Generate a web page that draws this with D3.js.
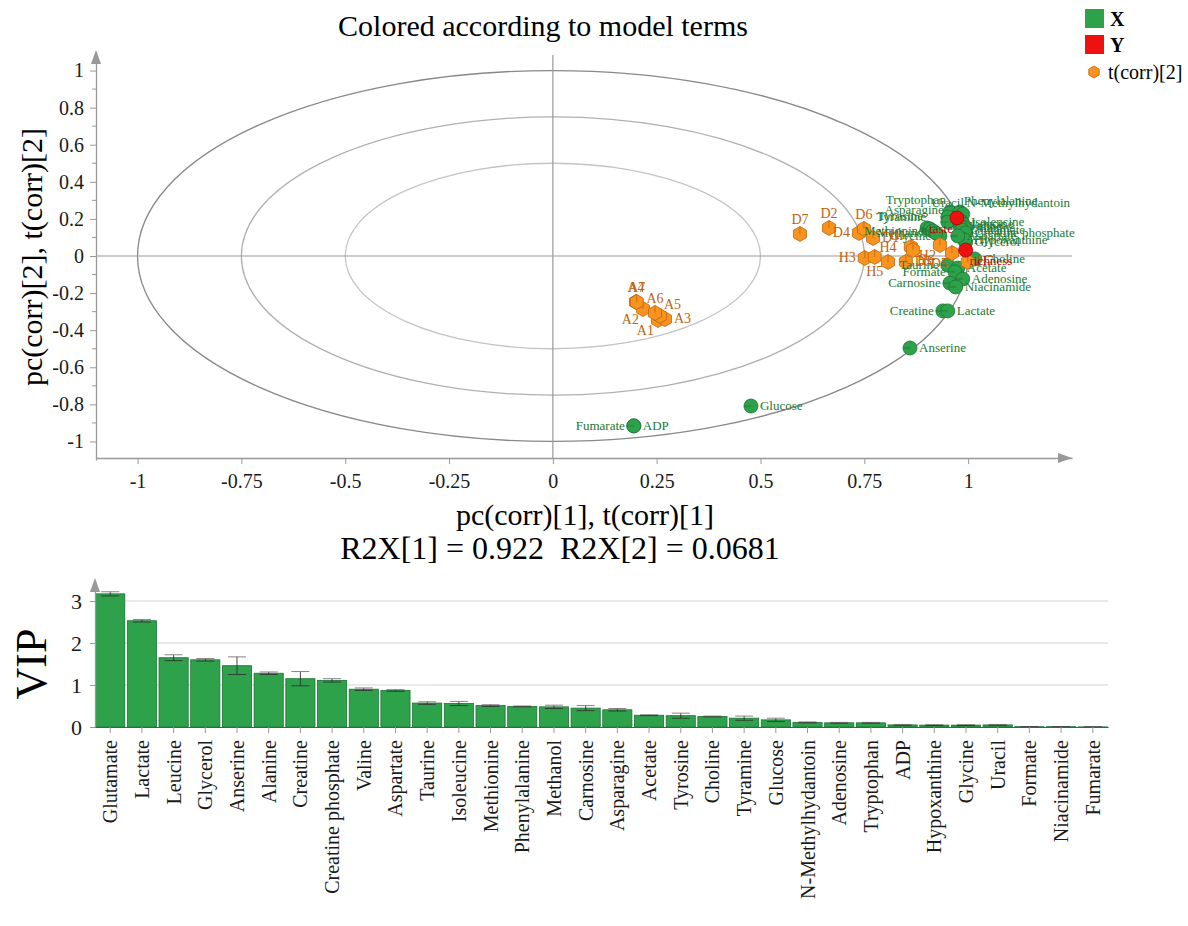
<!DOCTYPE html>
<html>
<head>
<meta charset="utf-8">
<script src="https://cdn.jsdelivr.net/npm/d3@7"></script>
<style>
  body { margin: 0; background: #fff; }
  svg { display: block; font-family: "Liberation Serif", "Times New Roman", serif; }
</style>
</head>
<body>
<svg id="chart" width="1188" height="926"></svg>
<script>
// ---- loadings (X variables) ----
const xNames = ['Tryptophan', 'Uracil', 'Asparagine', 'Tyrosine', 'Tyramine', 'Methionine', 'Glycine', 'Methanol',
  'Phenylalanine', 'N-Methylhydantoin', 'Isoleucine', 'Leucine', 'Alanine', 'Valine', 'Glutamate', 'Creatine phosphate',
  'Glycerol', 'Hypoxanthine', 'Aspartate', 'Taurine', 'Acetate', 'Choline', 'Formate', 'Carnosine',
  'Adenosine', 'Niacinamide', 'Creatine', 'Lactate', 'Anserine', 'Glucose', 'Fumarate', 'ADP']
const xPc1 = [0.956, 0.951, 0.951, 0.901, 0.908, 0.915, 0.932, 0.922,
  0.980, 0.987, 0.985, 0.987, 0.992, 0.980, 0.985, 0.994,
  0.994, 0.992, 0.975, 0.951, 0.975, 1.016, 0.968, 0.956,
  0.987, 0.970, 0.939, 0.951, 0.860, 0.477, 0.195, 0.195]
const xPc2 = [0.237, 0.210, 0.183, 0.151, 0.146, 0.135, 0.108, 0.124,
  0.237, 0.226, 0.183, 0.173, 0.151, 0.162, 0.140, 0.124,
  0.075, 0.086, 0.108, -0.049, -0.065, -0.016, -0.086, -0.146,
  -0.124, -0.167, -0.296, -0.296, -0.496, -0.809, -0.916, -0.916]

// ---- Y variables ----
const yNames = ['taste', 'richness']
const yPc1 = [0.973, 0.994]
const yPc2 = [0.205, 0.032]

// ---- observations t(corr) ----
const obsNames = ['A1', 'A2', 'A3', 'A4', 'A5', 'A6', 'A7',
  'D1', 'D2', 'D3', 'D4', 'D5', 'D6', 'D7',
  'H1', 'H2', 'H3', 'H4', 'H5', 'H6', 'H7']
const obsT1 = [0.253, 0.217, 0.270, 0.200, 0.258, 0.246, 0.202,
  0.771, 0.665, 0.850, 0.737, 0.961, 0.749, 0.595,
  0.862, 0.932, 0.751, 0.807, 0.775, 0.867, 0.999]
const obsT2 = [-0.345, -0.286, -0.340, -0.248, -0.323, -0.307, -0.248,
  0.097, 0.151, -0.032, 0.124, 0.016, 0.146, 0.119,
  0.049, 0.059, -0.011, -0.032, -0.005, 0.032, -0.032]

// ---- VIP ----
const vipNames = ['Glutamate', 'Lactate', 'Leucine', 'Glycerol', 'Anserine', 'Alanine', 'Creatine', 'Creatine phosphate',
  'Valine', 'Aspartate', 'Taurine', 'Isoleucine', 'Methionine', 'Phenylalanine', 'Methanol', 'Carnosine',
  'Asparagine', 'Acetate', 'Tyrosine', 'Choline', 'Tyramine', 'Glucose', 'N-Methylhydantoin', 'Adenosine',
  'Tryptophan', 'ADP', 'Hypoxanthine', 'Glycine', 'Uracil', 'Formate', 'Niacinamide', 'Fumarate']
const vipValues = [3.17, 2.53, 1.65, 1.60, 1.46, 1.28, 1.15, 1.11,
  0.90, 0.87, 0.57, 0.56, 0.51, 0.49, 0.48, 0.45,
  0.41, 0.28, 0.27, 0.25, 0.21, 0.17, 0.11, 0.10,
  0.10, 0.05, 0.045, 0.045, 0.05, 0.008, 0.008, 0.003]
const vipErr = [0.05, 0.03, 0.07, 0.03, 0.21, 0.03, 0.17, 0.04,
  0.03, 0.02, 0.03, 0.05, 0.02, 0.01, 0.04, 0.06,
  0.03, 0.01, 0.06, 0.01, 0.05, 0.04, 0.01, 0.01,
  0.01, 0.01, 0.01, 0.01, 0.01, 0.003, 0.003, 0.002]

const xTicks = [-1, -0.75, -0.5, -0.25, 0, 0.25, 0.5, 0.75, 1]
const yTicks = [-1, -0.8, -0.6, -0.4, -0.2, 0, 0.2, 0.4, 0.6, 0.8, 1]
const yMinor = [-0.9, -0.7, -0.5, -0.3, -0.1, 0.1, 0.3, 0.5, 0.7, 0.9]
const vipTicks = [0, 1, 2, 3]
const circleRadii = [1, 0.75, 0.5]

// where each point label sits relative to its mark
const labelSide = {
  'Tryptophan': 'tl', 'Uracil': 't', 'Asparagine': 'tl', 'Tyrosine': 'tl', 'Tyramine': 'tl', 'Methionine': 'l',
  'Glycine': 'l', 'Methanol': 'l', 'Phenylalanine': 'tr', 'N-Methylhydantoin': 'tr', 'Isoleucine': 'r', 'Leucine': 'r',
  'Alanine': 'r', 'Valine': 'r', 'Glutamate': 'r', 'Creatine phosphate': 'r', 'Glycerol': 'r', 'Hypoxanthine': 'r',
  'Aspartate': 'r', 'Taurine': 'l', 'Acetate': 'r', 'Choline': 'r', 'Formate': 'l', 'Carnosine': 'l',
  'Adenosine': 'r', 'Niacinamide': 'r', 'Creatine': 'l', 'Lactate': 'r', 'Anserine': 'r', 'Glucose': 'r',
  'Fumarate': 'l', 'ADP': 'r',
  'taste': 'bl', 'richness': 'br',
  'A1': 'bl', 'A2': 'bl', 'A3': 'r', 'A4': 't', 'A5': 'tr', 'A6': 't', 'A7': 't',
  'D1': 'r', 'D2': 't', 'D3': 'r', 'D4': 'l', 'D5': 'bl', 'D6': 't', 'D7': 't',
  'H1': 'tl', 'H2': 'bl', 'H3': 'l', 'H4': 't', 'H5': 'b', 'H6': 'br', 'H7': 'r'
}
const sideOff = {
  r: [9, 4, 'start'], l: [-9, 4, 'end'], t: [0, -10, 'middle'], b: [0, 19, 'middle'],
  tl: [-4, -8, 'end'], tr: [4, -7, 'start'], bl: [-4, 15, 'end'], br: [4, 15, 'start']
}

const green = '#2ea24b', greenDark = '#1c7432', greenText = '#1b7a33'
const orange = '#f7931e', orangeDark = '#c0660a', orangeText = '#c0620c'
const red = '#ee1111', redText = '#cc0000'
const axisGray = '#999'

const svg = d3.select('#chart')

// d3 axes set a sans-serif font on their group; drop it so the serif from the svg is used
const styleAxis = (g, size) => {
  g.attr('font-family', null).attr('font-size', null)
  g.selectAll('.tick line').attr('stroke', axisGray)
  g.select('.domain').attr('stroke', axisGray).attr('stroke-width', 1.3)
  g.selectAll('text').style('font-size', size).attr('fill', '#1a1a1a')
}

// ================= loading / score plot =================
const x = d3.scaleLinear().domain([-1.1, 1.25]).range([96, 1072])
const y = d3.scaleLinear().domain([-1.1, 1.1]).range([460, 52])

svg.append('text')
  .attr('x', 543).attr('y', 36)
  .attr('text-anchor', 'middle')
  .style('font-size', '30px')
  .text('Colored according to model terms')

// ellipses (correlation circles)
const ellColors = ['#888', '#b0b0b0', '#c4c4c4']
svg.append('g').selectAll('ellipse')
  .data(circleRadii)
  .join('ellipse')
  .attr('cx', x(0)).attr('cy', y(0))
  .attr('rx', d => x(d) - x(0))
  .attr('ry', d => y(0) - y(d))
  .attr('fill', 'none')
  .attr('stroke', (d, i) => ellColors[i])
  .attr('stroke-width', 1.3)

// zero lines
svg.append('line')
  .attr('x1', x(0)).attr('x2', x(0)).attr('y1', y.range()[1] + 3).attr('y2', y.range()[0] - 2)
  .attr('stroke', axisGray).attr('stroke-width', 1.2)
svg.append('line')
  .attr('x1', x.range()[0]).attr('x2', x.range()[1]).attr('y1', y(0)).attr('y2', y(0))
  .attr('stroke', axisGray).attr('stroke-width', 1.2)

const fmt = d => String(+d.toFixed(2))

const yAxisG = svg.append('g')
  .attr('transform', `translate(${x.range()[0]},0)`)
  .call(d3.axisLeft(y).tickValues(yTicks).tickFormat(fmt).tickSize(6).tickSizeOuter(0).tickPadding(6))
styleAxis(yAxisG, '20px')
yAxisG.selectAll('.minor').data(yMinor).join('line')
  .attr('class', 'minor')
  .attr('x1', -4).attr('x2', 0).attr('y1', d => y(d)).attr('y2', d => y(d))
  .attr('stroke', axisGray)

const xAxisG = svg.append('g')
  .attr('transform', `translate(0,${y.range()[0] - 2})`)
  .call(d3.axisBottom(x).tickValues(xTicks).tickFormat(fmt).tickSize(6).tickSizeOuter(0).tickPadding(10))
styleAxis(xAxisG, '20px')

// arrow heads
const arrowUp = (cx, top) => `M${cx - 5},${top + 14}L${cx},${top}L${cx + 5},${top + 14}Z`
svg.append('path').attr('d', arrowUp(x.range()[0], y.range()[1] - 2)).attr('fill', axisGray)
const xr = x.range()[1], xy = y.range()[0] - 2
svg.append('path').attr('d', `M${xr - 14},${xy - 5}L${xr},${xy}L${xr - 14},${xy + 5}Z`).attr('fill', axisGray)

// axis titles
svg.append('text')
  .attr('x', 585).attr('y', 525)
  .attr('text-anchor', 'middle')
  .style('font-size', '30px')
  .text('pc(corr)[1], t(corr)[1]')
svg.append('text')
  .attr('x', 560).attr('y', 559)
  .attr('text-anchor', 'middle')
  .style('font-size', '32px')
  .style('white-space', 'pre')
  .text('R2X[1] = 0.922  R2X[2] = 0.0681')
svg.append('text')
  .attr('transform', 'translate(42,257) rotate(-90)')
  .attr('text-anchor', 'middle')
  .style('font-size', '30px')
  .text('pc(corr)[2], t(corr)[2]')

// hexagon path
const hexPath = r => {
  let p = ''
  for (let k = 0; k < 6; k++) {
    const a = Math.PI / 2 + k * Math.PI / 3
    p += (k ? 'L' : 'M') + (r * Math.cos(a)).toFixed(2) + ',' + (-r * Math.sin(a)).toFixed(2)
  }
  return p + 'Z'
}

// X variables (green circles)
const gPts = svg.append('g').selectAll('g').data(xNames).join('g')
  .attr('transform', (d, i) => `translate(${x(xPc1[i])},${y(xPc2[i])})`)
gPts.append('circle').attr('r', 7).attr('fill', green).attr('stroke', greenDark).attr('stroke-width', 0.8)
gPts.append('line').attr('x1', -7).attr('x2', 0).attr('stroke', greenDark).attr('stroke-width', 0.8)

// observations (orange hexagons)
const oPts = svg.append('g').selectAll('g').data(obsNames).join('g')
  .attr('transform', (d, i) => `translate(${x(obsT1[i])},${y(obsT2[i])})`)
oPts.append('path').attr('d', hexPath(7.5)).attr('fill', orange).attr('stroke', orangeDark).attr('stroke-width', 0.8)
oPts.append('line').attr('y1', -7.5).attr('y2', 0).attr('stroke', orangeDark).attr('stroke-width', 0.8)

// Y variables (red circles)
const rPts = svg.append('g').selectAll('g').data(yNames).join('g')
  .attr('transform', (d, i) => `translate(${x(yPc1[i])},${y(yPc2[i])})`)
rPts.append('circle').attr('r', 7).attr('fill', red).attr('stroke', '#b00000').attr('stroke-width', 0.8)

// point labels
const addLabels = (names, v1, v2, color, size) => {
  svg.append('g').selectAll('text').data(names).join('text')
    .attr('x', (d, i) => x(v1[i]) + sideOff[labelSide[d]][0])
    .attr('y', (d, i) => y(v2[i]) + sideOff[labelSide[d]][1])
    .attr('text-anchor', d => sideOff[labelSide[d]][2])
    .attr('fill', color)
    .style('font-size', size)
    .text(d => d)
}
addLabels(xNames, xPc1, xPc2, greenText, '13px')
addLabels(obsNames, obsT1, obsT2, orangeText, '14px')
addLabels(yNames, yPc1, yPc2, redText, '13px')

// legend
const leg = svg.append('g')
leg.append('rect').attr('x', 1085).attr('y', 9).attr('width', 19).attr('height', 19).attr('fill', green)
leg.append('text').attr('x', 1110).attr('y', 26).style('font-size', '20px').style('font-weight', 'bold').text('X')
leg.append('rect').attr('x', 1085).attr('y', 35).attr('width', 19).attr('height', 19).attr('fill', red)
leg.append('text').attr('x', 1110).attr('y', 52).style('font-size', '20px').style('font-weight', 'bold').text('Y')
leg.append('path').attr('transform', 'translate(1094,72)').attr('d', hexPath(6))
  .attr('fill', orange).attr('stroke', orangeDark).attr('stroke-width', 0.8)
leg.append('text').attr('x', 1108).attr('y', 79).style('font-size', '20px').text('t(corr)[2]')

// ================= VIP bar chart =================
const bx = d3.scaleBand().domain(vipNames).range([95, 1108]).paddingInner(0.08).paddingOuter(0.02)
const by = d3.scaleLinear().domain([0, 3.5]).range([727, 580])

svg.append('g').selectAll('line').data(vipTicks.filter(d => d > 0)).join('line')
  .attr('x1', 95).attr('x2', 1108)
  .attr('y1', d => by(d)).attr('y2', d => by(d))
  .attr('stroke', '#e2e2e2').attr('stroke-width', 1.5)

svg.append('g').selectAll('rect').data(vipNames).join('rect')
  .attr('x', d => bx(d))
  .attr('y', (d, i) => by(vipValues[i]))
  .attr('width', bx.bandwidth())
  .attr('height', (d, i) => by(0) - by(vipValues[i]))
  .attr('fill', green).attr('stroke', greenDark).attr('stroke-width', 0.8)

// error bars
const eb = svg.append('g').selectAll('g').data(vipNames).join('g')
  .attr('transform', d => `translate(${bx(d) + bx.bandwidth() / 2},0)`)
eb.append('line')
  .attr('y1', (d, i) => by(vipValues[i] - vipErr[i])).attr('y2', (d, i) => by(vipValues[i] + vipErr[i]))
  .attr('stroke', '#333').attr('stroke-width', 0.9)
eb.append('line').attr('x1', -9).attr('x2', 9)
  .attr('y1', (d, i) => by(vipValues[i] + vipErr[i])).attr('y2', (d, i) => by(vipValues[i] + vipErr[i]))
  .attr('stroke', '#777').attr('stroke-width', 0.9)
eb.append('line').attr('x1', -9).attr('x2', 9)
  .attr('y1', (d, i) => by(vipValues[i] - vipErr[i])).attr('y2', (d, i) => by(vipValues[i] - vipErr[i]))
  .attr('stroke', '#333').attr('stroke-width', 0.9)

const vyAxis = svg.append('g')
  .attr('transform', 'translate(95,0)')
  .call(d3.axisLeft(by).tickValues(vipTicks).tickFormat(d3.format('d')).tickSize(5).tickSizeOuter(0).tickPadding(8))
styleAxis(vyAxis, '22px')
svg.append('path').attr('d', arrowUp(95, 578)).attr('fill', axisGray)

const vxAxis = svg.append('g')
  .attr('transform', 'translate(0,727)')
  .call(d3.axisBottom(bx).tickSize(6).tickSizeOuter(0))
styleAxis(vxAxis, '20px')
vxAxis.select('.domain').attr('stroke', '#555').attr('stroke-width', 1.2)
vxAxis.selectAll('text')
  .attr('transform', 'rotate(-90)')
  .attr('x', -13).attr('y', 0).attr('dy', '0.35em')
  .style('text-anchor', 'end')

svg.append('text')
  .attr('transform', 'translate(46,664) rotate(-90)')
  .attr('text-anchor', 'middle')
  .style('font-size', '44px')
  .text('VIP')
</script>
</body>
</html>
